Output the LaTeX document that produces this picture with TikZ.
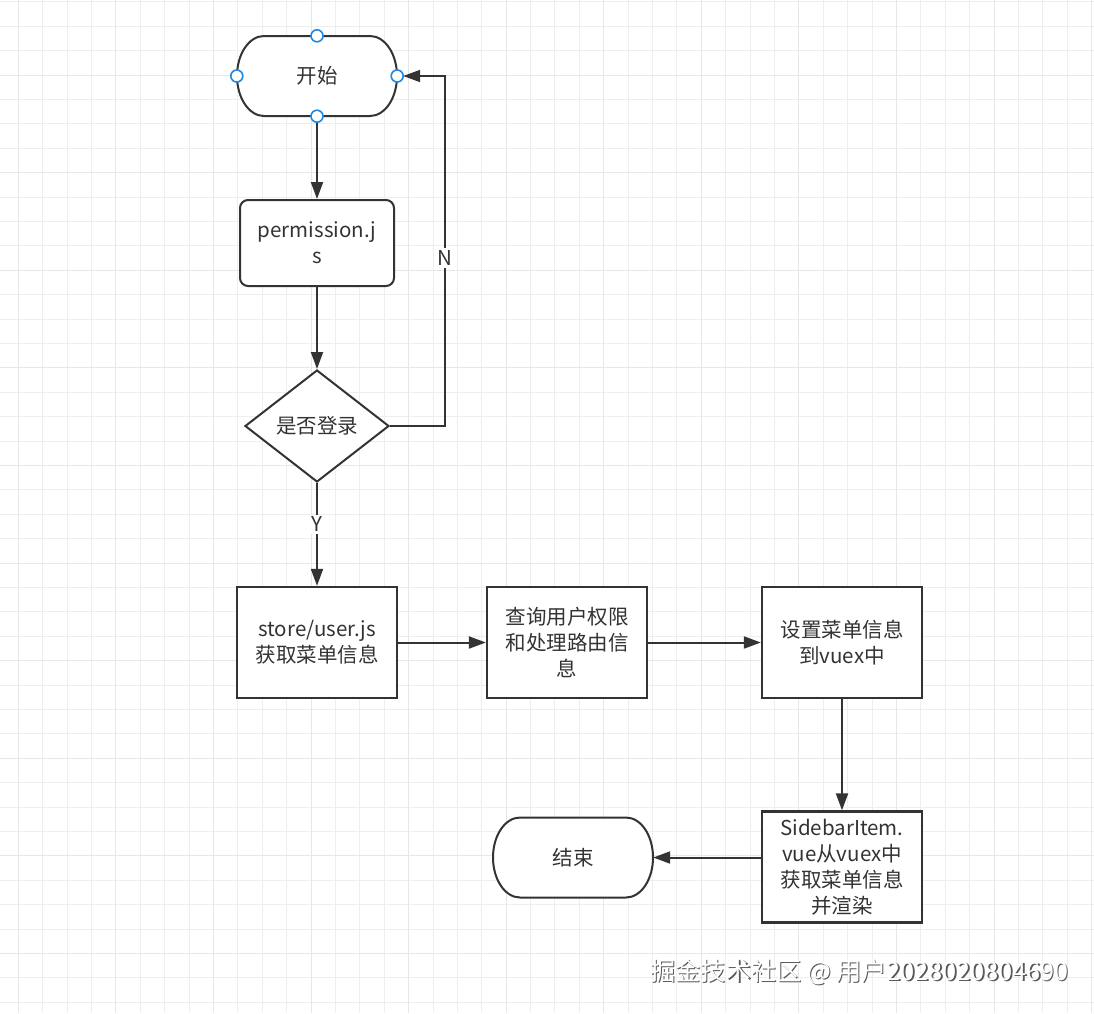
\documentclass[tikz,border=0pt]{standalone}
\usepackage{fontspec}
\setmainfont{Noto Sans CJK SC}
\usetikzlibrary{shapes.geometric,arrows.meta}
\definecolor{ink}{HTML}{333333}
\definecolor{gridminor}{HTML}{EEEEEE}
\definecolor{gridmajor}{HTML}{E7E7E7}
\definecolor{handleblue}{HTML}{1E88E5}
\newcommand\drawterm[2]{%
  \draw[termline] ({#1-53},{#2-40}) .. controls ({#1-67.9},{#2-40}) and ({#1-80},{#2-22.1}) .. ({#1-80},{#2})
    .. controls ({#1-80},{#2+22.1}) and ({#1-67.9},{#2+40}) .. ({#1-53},{#2+40})
    -- ({#1+53},{#2+40}) .. controls ({#1+67.9},{#2+40}) and ({#1+80},{#2+22.1}) .. ({#1+80},{#2})
    .. controls ({#1+80},{#2-22.1}) and ({#1+67.9},{#2-40}) .. ({#1+53},{#2-40}) -- cycle;}
\begin{document}
\begin{tikzpicture}[x=1pt,y=-1pt,
  txt/.style={text=ink,font=\fontsize{20.5}{26}\selectfont,align=center},
  box/.style={txt,draw=ink,line width=2.3pt,minimum width=160pt,minimum height=111pt,inner sep=0pt,fill=white},
  roundbox/.style={txt,draw=ink,line width=2pt,rounded corners=8pt,minimum width=154pt,minimum height=86pt,inner sep=0pt,fill=white},
  termnode/.style={txt,minimum width=160pt,minimum height=80pt,inner sep=0pt},
  termline/.style={draw=ink,line width=2pt,fill=white},
  decision/.style={txt,diamond,draw=ink,line width=2pt,minimum width=144pt,minimum height=112pt,aspect=1.29,inner sep=0pt,fill=white},
  handle/.style={circle,draw=handleblue,fill=white,line width=1.6pt,minimum size=12pt,inner sep=0pt},
  arr/.style={draw=ink,line width=2pt,-{Triangle[length=17pt,width=12pt]}},
  lab/.style={txt,fill=white,inner sep=2pt},
  wm/.style={font=\fontsize{25.2}{28}\selectfont,inner sep=0pt}
]
\fill[white] (0,0) rectangle (1094,1013);
\useasboundingbox (0,0) rectangle (1094,1013);
% grid
\foreach \k in {0,...,44}{\pgfmathsetmacro\xx{18.4+24.39*\k}
  \draw[gridminor,line width=1pt] (\xx,0) -- (\xx,1013);}
\foreach \k in {0,...,41}{\pgfmathsetmacro\yy{1.8+24.4*\k}
  \draw[gridminor,line width=1pt] (0,\yy) -- (1094,\yy);}
\foreach \k in {0,4,...,44}{\pgfmathsetmacro\xx{18.4+24.39*\k}
  \draw[gridmajor,line width=1pt] (\xx,0) -- (\xx,1013);}
\foreach \k in {3,7,...,39}{\pgfmathsetmacro\yy{1.8+24.4*\k}
  \draw[gridmajor,line width=1pt] (0,\yy) -- (1094,\yy);}

% shapes
\drawterm{317}{76}
\node[termnode] (start) at (317,76) {开始};
\node[roundbox] (perm) at (317,243) {permission.j\\s};
\node[decision] (dec) at (317,426) {是否登录};
\node[box] (store) at (317,642.5) {store/user.js\\获取菜单信息};
\node[box] (query) at (567,642.5) {查询用户权限\\和处理路由信\\息};
\node[box] (setv) at (842,642.5) {设置菜单信息\\到vuex中};
\node[box] (side) at (842,867) {SidebarItem.\\vue从vuex中\\获取菜单信息\\并渲染};
\drawterm{573}{857.5}
\node[termnode] (end) at (573,857.5) {结束};
\coordinate (nturn) at (445,426);

% connectors
\draw[arr,shorten <=6pt] (start.south) -- (perm.north);
\draw[arr] (perm.south) -- (dec.north);
\draw[arr] (dec.south) -- node[lab,pos=0.4] (ylab) {Y} (store.north);
\draw[arr,shorten >=6pt] (dec.east) -- (nturn) |- node[lab,pos=0.24] (nlab) {N} (start.east);
\draw[arr] (store.east) -- (query.west);
\draw[arr] (query.east) -- (setv.west);
\draw[arr] (setv.south) -- (side.north);
\draw[arr] (end.east -| side.west) -- (end.east);

% connection handles
\node[handle] (hn) at (start.north) {};
\node[handle] (hw) at (start.west) {};
\node[handle] (he) at (start.east) {};
\node[handle] (hs) at (start.south) {};

% watermark
\node[wm,text=black!65,anchor=west] (wmshadow) at (651.2,973.2) {掘金技术社区 @ 用户2028020804690};
\node[wm,text=white,anchor=west] (wmtext) at (650,972) {掘金技术社区 @ 用户2028020804690};
\end{tikzpicture}
\end{document}
